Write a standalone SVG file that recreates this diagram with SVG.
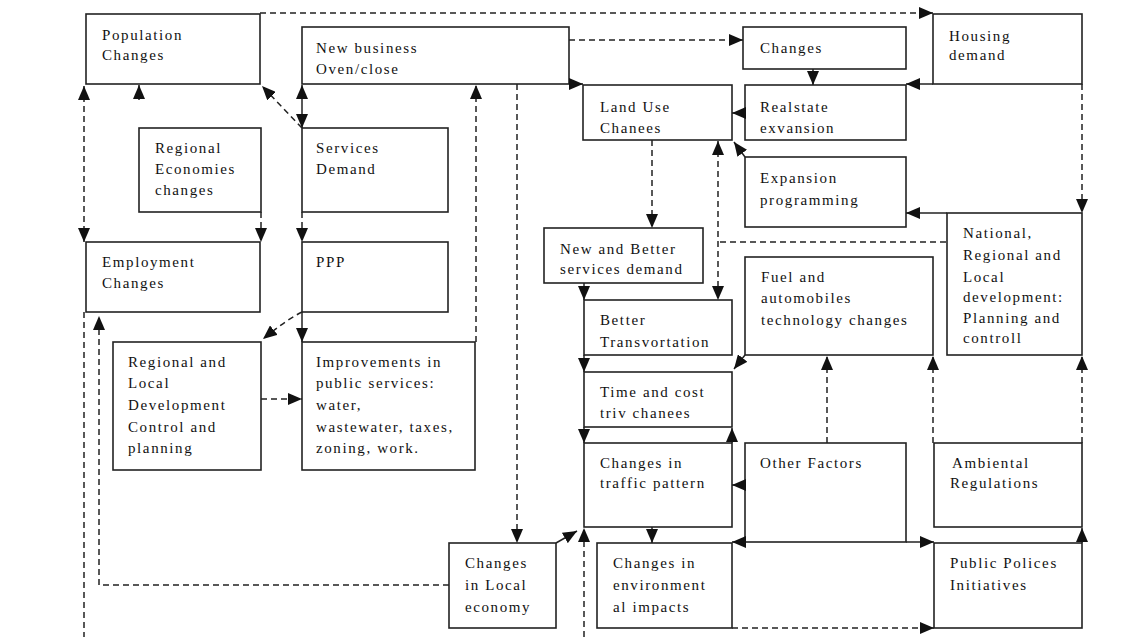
<svg xmlns="http://www.w3.org/2000/svg" width="1138" height="637" viewBox="0 0 1138 637">
<style>
.box{fill:#fff;stroke:#222;stroke-width:1.6}
.t{font-family:"Liberation Serif","Times New Roman",serif;font-size:15px;letter-spacing:1.6px;fill:#111}
.c{fill:none;stroke:#222;stroke-width:1.5}
.d{fill:none;stroke:#222;stroke-width:1.5;stroke-dasharray:6 4}
</style>
<defs>
<marker id="ah" markerUnits="userSpaceOnUse" markerWidth="14" markerHeight="12" refX="14" refY="6" orient="auto-start-reverse">
<path d="M0,0 L14,6 L0,12 z" fill="#111"/>
</marker>
</defs>
<rect width="1138" height="637" fill="#fff"/>

<g id="population"><rect class="box" x="86" y="14" width="174" height="70"/><text class="t" x="102" y="40">Population</text><text class="t" x="102" y="60">Changes</text></g>
<g id="newbusiness"><rect class="box" x="302" y="27" width="267" height="57"/><text class="t" x="316" y="53">New business</text><text class="t" x="316" y="74">Oven/close</text></g>
<g id="changes"><rect class="box" x="743" y="27" width="163" height="42"/><text class="t" x="760" y="53">Changes</text></g>
<g id="housing"><rect class="box" x="933" y="14" width="149" height="70"/><text class="t" x="949" y="41">Housing</text><text class="t" x="949" y="60">demand</text></g>
<g id="landuse"><rect class="box" x="583" y="85" width="149" height="55"/><text class="t" x="600" y="112">Land Use</text><text class="t" x="600" y="133">Chanees</text></g>
<g id="realstate"><rect class="box" x="745" y="85" width="161" height="55"/><text class="t" x="760" y="112">Realstate</text><text class="t" x="760" y="133">exvansion</text></g>
<g id="expansion"><rect class="box" x="745" y="157" width="161" height="70"/><text class="t" x="760" y="183">Expansion</text><text class="t" x="760" y="205">programming</text></g>
<g id="regecon"><rect class="box" x="139" y="128" width="122" height="84"/><text class="t" x="155" y="153">Regional</text><text class="t" x="155" y="174">Economies</text><text class="t" x="155" y="195">changes</text></g>
<g id="services"><rect class="box" x="302" y="128" width="146" height="84"/><text class="t" x="316" y="153">Services</text><text class="t" x="316" y="174">Demand</text></g>
<g id="employment"><rect class="box" x="86" y="242" width="174" height="70"/><text class="t" x="102" y="267">Employment</text><text class="t" x="102" y="288">Changes</text></g>
<g id="ppp"><rect class="box" x="302" y="242" width="146" height="70"/><text class="t" x="316" y="267">PPP</text></g>
<g id="newbetter"><rect class="box" x="544" y="228" width="159" height="55"/><text class="t" x="560" y="254">New  and Better</text><text class="t" x="560" y="274">services demand</text></g>
<g id="national"><rect class="box" x="947" y="213" width="135" height="142"/><text class="t" x="963" y="238">National,</text><text class="t" x="963" y="260">Regional and</text><text class="t" x="963" y="282">Local</text><text class="t" x="963" y="302">development:</text><text class="t" x="963" y="323">Planning and</text><text class="t" x="963" y="343">controll</text></g>
<g id="fuel"><rect class="box" x="745" y="257" width="188" height="98"/><text class="t" x="761" y="282">Fuel and</text><text class="t" x="761" y="303">automobiles</text><text class="t" x="761" y="325">technology changes</text></g>
<g id="bettertrans"><rect class="box" x="584" y="300" width="148" height="55"/><text class="t" x="600" y="325">Better</text><text class="t" x="600" y="347">Transvortation</text></g>
<g id="regional"><rect class="box" x="113" y="342" width="148" height="128"/><text class="t" x="128" y="367">Regional and</text><text class="t" x="128" y="388">Local</text><text class="t" x="128" y="410">Development</text><text class="t" x="128" y="432">Control and</text><text class="t" x="128" y="453">planning</text></g>
<g id="improvements"><rect class="box" x="302" y="342" width="173" height="128"/><text class="t" x="316" y="367">Improvements in</text><text class="t" x="316" y="388">public services:</text><text class="t" x="316" y="410">water,</text><text class="t" x="316" y="432">wastewater, taxes,</text><text class="t" x="316" y="453">zoning, work.</text></g>
<g id="timecost"><rect class="box" x="584" y="372" width="148" height="55"/><text class="t" x="600" y="397">Time and cost</text><text class="t" x="600" y="418">triv chanees</text></g>
<g id="traffic"><rect class="box" x="584" y="443" width="148" height="84"/><text class="t" x="600" y="468">Changes in</text><text class="t" x="600" y="488">traffic pattern</text></g>
<g id="other"><rect class="box" x="745" y="443" width="161" height="99"/><text class="t" x="760" y="468">Other Factors</text></g>
<g id="ambiental"><rect class="box" x="934" y="443" width="148" height="84"/><text class="t" x="952" y="468">Ambiental</text><text class="t" x="950" y="488">Regulations</text></g>
<g id="localeconomy"><rect class="box" x="449" y="543" width="107" height="85"/><text class="t" x="465" y="568">Changes</text><text class="t" x="465" y="590">in Local</text><text class="t" x="465" y="612">economy</text></g>
<g id="environment"><rect class="box" x="597" y="543" width="135" height="85"/><text class="t" x="613" y="568">Changes in</text><text class="t" x="613" y="590">environment</text><text class="t" x="613" y="612">al impacts</text></g>
<g id="public"><rect class="box" x="934" y="543" width="148" height="85"/><text class="t" x="950" y="568">Public Polices</text><text class="t" x="950" y="590">Initiatives</text></g>

<g id="connectors">
<path class="d" d="M260,13 H933" marker-end="url(#ah)"/>
<path class="d" d="M569,40 H743" marker-end="url(#ah)"/>
<path class="c" d="M569,84 H583" marker-end="url(#ah)"/>
<path class="c" d="M813,69 V85" marker-end="url(#ah)"/>
<path class="c" d="M933,84 H906" marker-end="url(#ah)"/>
<path class="c" d="M745,113 H732" marker-end="url(#ah)"/>
<path class="c" d="M745,157 L734,142" marker-end="url(#ah)"/>
<path class="d" d="M1082,84 V213" marker-end="url(#ah)"/>
<path class="c" d="M947,213 H906" marker-end="url(#ah)"/>
<path class="d" d="M652,140 V228" marker-end="url(#ah)"/>
<path class="d" d="M718,141 V300" marker-start="url(#ah)" marker-end="url(#ah)"/>
<path class="d" d="M720,242 H947"/>
<path class="c" d="M584,283 V300" marker-end="url(#ah)"/>
<path class="c" d="M584,355 V372" marker-end="url(#ah)"/>
<path class="c" d="M584,427 V443" marker-end="url(#ah)"/>
<path class="c" d="M732,443 V428" marker-end="url(#ah)"/>
<path class="c" d="M745,355 L734,369" marker-end="url(#ah)"/>
<path class="c" d="M745,485 H732" marker-end="url(#ah)"/>
<path class="d" d="M827,443 V356" marker-end="url(#ah)"/>
<path class="d" d="M933,443 V356" marker-end="url(#ah)"/>
<path class="d" d="M1082,443 V356" marker-end="url(#ah)"/>
<path class="c" d="M652,527 V543" marker-end="url(#ah)"/>
<path class="c" d="M745,542 H732" marker-end="url(#ah)"/>
<path class="c" d="M906,542 H934" marker-end="url(#ah)"/>
<path class="c" d="M1082,543 V528" marker-end="url(#ah)"/>
<path class="d" d="M732,628 H934" marker-end="url(#ah)"/>
<path class="d" d="M584,637 V528" marker-end="url(#ah)"/>
<path class="c" d="M556,543 L577,531" marker-end="url(#ah)"/>
<path class="d" d="M517,84 V543" marker-end="url(#ah)"/>
<path class="d" d="M476,342 V85" marker-end="url(#ah)"/>
<path class="d" d="M449,585 H99 V316" marker-end="url(#ah)"/>
<path class="d" d="M84,86 V242" marker-start="url(#ah)" marker-end="url(#ah)"/>
<path class="d" d="M84,312 V637"/>
<path class="c" d="M139,100 V85" marker-end="url(#ah)"/>
<path class="d" d="M261,212 V242" marker-end="url(#ah)"/>
<path class="c" d="M302,85 V128" marker-start="url(#ah)" marker-end="url(#ah)"/>
<path class="d" d="M302,128 L262,86" marker-end="url(#ah)"/>
<path class="d" d="M302,212 V242" marker-end="url(#ah)"/>
<path class="c" d="M302,312 V342" marker-end="url(#ah)"/>
<path class="d" d="M302,312 Q286,320 263,339" marker-end="url(#ah)"/>
<path class="d" d="M261,399 H302" marker-end="url(#ah)"/>
</g>
</svg>
